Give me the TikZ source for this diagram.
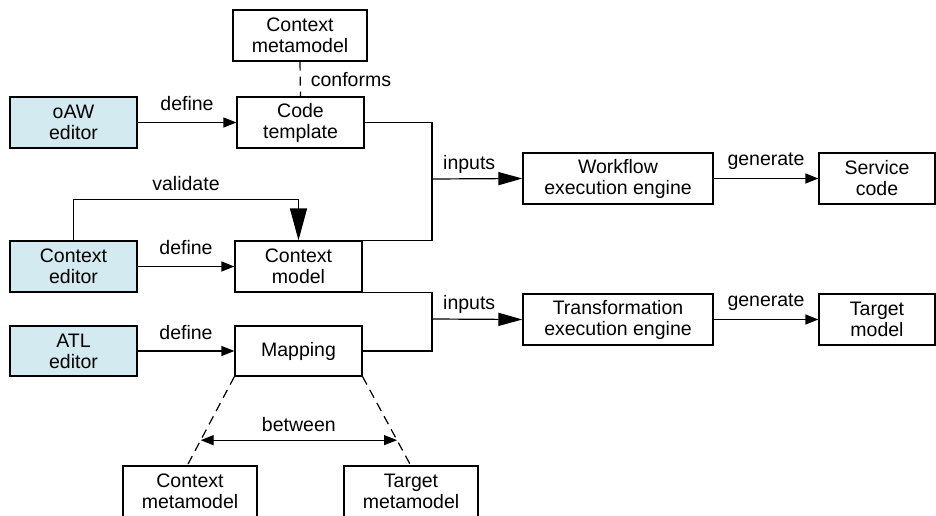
\documentclass[tikz,border=0pt]{standalone}
\usepackage{fontspec}
\setmainfont{Liberation Sans}
\usetikzlibrary{arrows.meta,calc}
\definecolor{edfill}{RGB}{210,234,240}
\begin{document}
\begin{tikzpicture}[x=1pt,y=-1pt,
  txt/.style={font=\fontsize{19.5}{21}\selectfont},
  box/.style={draw,line width=1.2pt,align=center,inner sep=0pt,txt,minimum height=51pt},
  ed/.style={box,fill=edfill,minimum width=127pt},
  mid/.style={box,minimum width=127pt},
  eng/.style={box,minimum width=190pt},
  res/.style={box,minimum width=116pt},
  meta/.style={box,minimum width=134pt},
  conn/.style={line width=1.2pt},
  small/.style={conn,-{Triangle[length=13pt,width=10pt]}},
  big/.style={conn,-{Triangle[length=24pt,width=13pt]}},
  vbig/.style={conn,-{Triangle[length=32pt,width=17pt]}},
  dsh/.style={conn,dash pattern=on 9pt off 6pt},
  lab/.style={txt,inner sep=0pt,text depth=0pt}]
\useasboundingbox (0,0) rectangle (936,516);
% nodes
\node[meta] (cmm) at (300,35.5) {Context\\metamodel};
\node[ed] (oaw) at (73.5,122.5) {oAW\\editor};
\node[mid] (code) at (300.5,122.5) {Code\\template};
\node[ed] (ced) at (73.5,266.5) {Context\\editor};
\node[mid] (cmod) at (298.5,266.5) {Context\\model};
\node[ed,minimum height=50pt] (atl) at (73.5,351) {ATL\\editor};
\node[mid,minimum height=50pt] (map) at (298.5,351) {Mapping};
\node[eng] (wf) at (618,178.5) {Workflow\\execution engine};
\node[res] (sc) at (877,178.5) {Service\\code};
\node[eng] (tr) at (618,319.5) {Transformation\\execution engine};
\node[res] (tm) at (877,319.5) {Target\\model};
\node[meta] (cmm2) at (190,491.5) {Context\\metamodel};
\node[meta] (tmm) at (411,491.5) {Target\\metamodel};
% junctions
\coordinate (j1) at (432,179);
\coordinate (j2) at (432,319);
\coordinate (cl) at (187,466);
\coordinate (cr) at (411,466);
% connectors
\draw[dsh] (cmm.south) -- node[lab,right,xshift=10pt]{conforms} (code.north);
\draw[small] (oaw.east) -- node[lab,above=11pt]{define} (code.west);
\draw[small] (ced.east) -- node[lab,above=11pt]{define} (cmod.west);
\draw[small] (atl.east) -- node[lab,above=11pt]{define} (map.west);
\draw[conn] (code.east) -| (j1) |- (cmod.north east);
\draw[big] (j1) -- node[lab,above=9pt,xshift=-8pt]{inputs} (wf.west);
\draw[conn] (cmod.south east) -| (j2) |- (map.east);
\draw[big] (j2) -- node[lab,above=9pt,xshift=-8pt]{inputs} (tr.west);
\draw[small] (wf.east) -- node[lab,above=12pt]{generate} (sc.west);
\draw[small] (tr.east) -- node[lab,above=12pt]{generate} (tm.west);
\draw[vbig] (ced.north) |- node[lab,above=8pt,pos=0.75]{validate} ($(cmod.north)+(0,-41)$) -- (cmod.north);
\draw[dsh] (map.south west) -- (cl);
\draw[dsh] (map.south east) -- (cr);
\draw[conn,{Triangle[length=13pt,width=10pt]}-{Triangle[length=13pt,width=10pt]}]
  ($(map.south west)!0.711!(cl)$) -- node[lab,above=8pt]{between} ($(map.south east)!0.711!(cr)$);
\end{tikzpicture}
\end{document}
